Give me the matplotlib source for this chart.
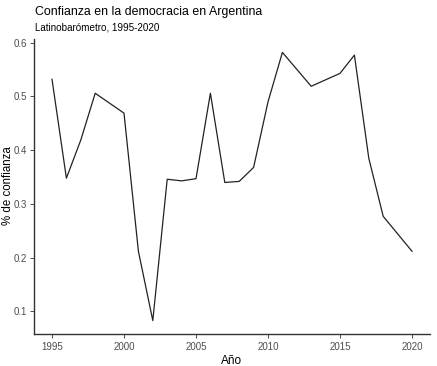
import matplotlib.pyplot as plt

# Data
years = [1995, 1996, 1997, 1998, 2000, 2001, 2002, 2003, 2004, 2005, 2006,
         2007, 2008, 2009, 2010, 2011, 2013, 2015, 2016, 2017, 2018, 2020]
confianza = [0.532, 0.348, 0.419, 0.506, 0.469, 0.212, 0.083, 0.346, 0.343,
             0.347, 0.506, 0.340, 0.342, 0.368, 0.490, 0.582, 0.519, 0.543,
             0.577, 0.385, 0.277, 0.212]
x_ticks = [1995, 2000, 2005, 2010, 2015, 2020]
y_ticks = [0.1, 0.2, 0.3, 0.4, 0.5, 0.6]

plt.rcParams['font.family'] = ['Liberation Sans', 'DejaVu Sans']

fig = plt.figure(figsize=(4.37, 3.66), dpi=100)
ax = fig.add_axes([34 / 437, 32 / 366, 396 / 437, 295 / 366])

ax.plot(years, confianza, color='#222222', linewidth=0.9)

# ggplot-like 5% expansion
xr = max(years) - min(years)
ax.set_xlim(min(years) - 0.05 * xr, max(years) + 0.05 * xr)
yr = max(confianza) - min(confianza)
ax.set_ylim(min(confianza) - 0.05 * yr, max(confianza) + 0.05 * yr)

ax.set_xticks(x_ticks)
ax.set_xticklabels([str(x) for x in x_ticks])
ax.set_yticks(y_ticks)
ax.set_yticklabels([str(y) for y in y_ticks])
ax.tick_params(colors='#4d4d4d', labelsize=7, length=3, width=0.7)
ax.tick_params(axis='x', pad=3)
ax.tick_params(axis='y', pad=2)

for s in ['top', 'right']:
    ax.spines[s].set_visible(False)
for s in ['left', 'bottom']:
    ax.spines[s].set_color('#333333')
    ax.spines[s].set_linewidth(1.0)

ax.set_xlabel("Año", fontsize=8.5, labelpad=2)
fig.text(8 / 437, 1 - 186 / 366, "% de confianza", fontsize=8.3,
         rotation=90, va='center', ha='center')

fig.text(35 / 437, 1 - 12 / 366, "Confianza en la democracia en Argentina",
         fontsize=8.9, va='center', ha='left')
fig.text(35 / 437, 1 - 27 / 366, "Latinobarómetro, 1995-2020",
         fontsize=7.1, va='center', ha='left')

fig.savefig("out.png", dpi=100)
